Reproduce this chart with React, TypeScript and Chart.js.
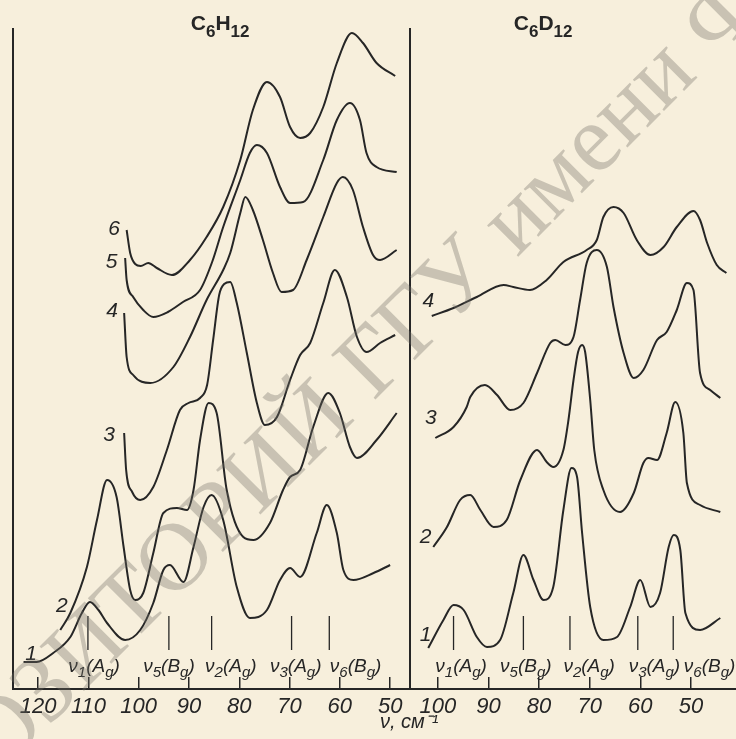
import React, { useEffect, useRef } from 'react';
import { Chart, registerables } from 'chart.js';

Chart.register(...registerables);

type P = [number, number];

// ---------- axes ----------
const H_TICKS = [120, 110, 100, 90, 80, 70, 60, 50];
const D_TICKS = [100, 90, 80, 70, 60, 50];
const H_RANGE: P = [46.05, 125.0];
const D_RANGE: P = [41.1, 105.5];
const Y_RANGE: P = [0, 66];

// ---------- C6H12 spectra (x: wavenumber, cm^-1; y: offset intensity) ----------
const H1: P[] = [[122.9,2.7],[120.3,2.7],[117.0,3.6],[113.6,5.2],[111.3,7.6],[109.7,8.7],[108.0,7.9],[106.3,6.6],[102.7,4.9],[99.7,5.9],[97.1,8.6],[95.1,11.9],[93.8,12.4],[91.1,10.7],[89.1,14.2],[87.1,18.2],[85.5,19.4],[83.2,16.9],[80.5,10.2],[77.9,7.1],[74.5,7.9],[71.9,10.9],[69.9,12.1],[67.9,11.2],[64.6,15.6],[62.6,18.4],[60.6,15.6],[59.3,11.9],[57.3,10.9],[53.3,11.6],[50.0,12.4]];
const H2: P[] = [[115.6,5.9],[113.6,7.6],[110.3,12.2],[108.3,16.9],[106.3,20.9],[104.4,19.2],[103.0,14.2],[101.7,9.9],[100.7,8.9],[99.1,9.6],[97.1,13.6],[95.1,17.6],[92.4,18.1],[90.4,17.9],[89.1,19.9],[87.8,24.9],[86.1,28.6],[84.5,27.6],[82.5,19.9],[79.2,15.2],[77.2,14.9],[73.9,16.6],[71.3,19.9],[69.9,21.2],[67.9,21.9],[65.3,26.2],[62.3,29.6],[60.0,27.6],[58.0,24.2],[56.6,23.1],[52.7,24.9],[48.7,27.6]];
const H3: P[] = [[102.9,25.6],[102.5,21.9],[101.3,19.7],[99.7,18.9],[97.1,20.2],[94.4,23.9],[91.8,27.9],[90.1,28.6],[87.8,29.1],[86.4,30.4],[85.2,34.9],[84.0,39.4],[83.0,40.5],[81.8,40.7],[80.5,38.6],[78.5,33.6],[76.5,28.6],[74.9,26.4],[72.5,27.2],[69.9,30.9],[67.9,33.4],[65.9,34.6],[63.3,38.6],[61.0,41.9],[58.6,39.2],[56.6,35.2],[54.7,33.7],[52.0,34.6],[49.0,35.4]];
const H4: P[] = [[102.9,37.6],[102.4,33.2],[101.1,31.4],[97.7,30.6],[93.1,32.2],[89.8,35.2],[86.5,38.9],[83.2,41.9],[81.8,43.6],[79.8,47.6],[78.8,49.2],[77.3,47.9],[75.3,44.9],[73.3,41.6],[71.6,39.7],[69.3,39.9],[66.6,42.9],[63.3,47.2],[60.6,50.6],[59.4,51.2],[57.4,49.9],[55.4,46.2],[53.4,43.4],[52.0,42.9],[48.7,43.9]];
const H5: P[] = [[102.7,43.1],[102.4,40.9],[101.1,39.2],[99.1,37.9],[97.1,37.2],[94.2,37.7],[91.2,38.7],[87.8,39.9],[85.4,42.7],[83.2,46.2],[79.8,50.9],[77.9,53.6],[76.5,54.4],[74.5,53.6],[71.9,50.2],[69.9,48.6],[67.3,48.7],[63.3,52.9],[60.6,56.9],[58.0,58.6],[56.0,56.9],[54.7,53.6],[52.7,52.2],[48.7,51.7]];
const H6: P[] = [[102.4,45.9],[101.7,43.6],[100.7,42.5],[99.6,42.3],[98.1,42.6],[96.4,42.1],[93.4,41.4],[89.8,42.9],[86.5,45.2],[83.2,48.2],[79.8,52.9],[77.3,57.9],[74.5,60.7],[71.9,59.2],[69.9,56.2],[67.9,55.1],[65.9,55.6],[63.3,58.2],[60.6,62.6],[57.6,65.6],[55.4,64.6],[52.7,62.6],[49.0,61.3]];

// ---------- C6D12 spectra ----------
const D1: P[] = [[101.9,4.1],[98.9,6.9],[96.9,8.4],[94.9,7.9],[92.3,5.2],[90.3,4.2],[87.7,4.9],[85.1,9.6],[83.1,13.4],[81.1,10.9],[79.1,8.9],[77.2,10.2],[75.2,17.9],[73.6,22.1],[72.5,21.2],[71.5,15.6],[69.9,8.2],[67.3,4.9],[64.6,5.2],[62.0,8.2],[60.0,10.9],[58.0,8.2],[56.1,9.6],[54.4,14.2],[53.4,15.4],[52.1,13.9],[51.1,7.6],[48.2,5.9],[44.2,7.1]];
const D2: P[] = [[100.9,14.2],[98.2,16.2],[95.6,18.9],[93.6,19.4],[91.6,17.9],[89.0,16.2],[86.4,16.9],[83.7,20.9],[80.4,23.9],[78.5,22.7],[77.2,22.2],[75.2,23.9],[74.2,26.9],[73.2,30.9],[72.3,33.7],[71.5,34.4],[70.9,33.7],[69.9,28.9],[69.1,23.9],[67.3,19.9],[64.0,17.7],[61.3,19.6],[59.4,22.6],[58.4,23.1],[56.7,22.9],[54.8,25.6],[53.1,28.7],[51.5,25.6],[50.8,20.6],[48.2,18.4],[44.2,17.7]];
const D3: P[] = [[100.5,25.1],[96.9,26.2],[94.3,28.2],[93.6,29.2],[90.7,30.4],[88.3,29.4],[85.7,27.9],[83.1,28.6],[80.4,31.6],[77.8,34.6],[76.8,34.9],[74.8,34.4],[73.2,35.2],[71.9,38.9],[70.6,42.6],[68.6,43.9],[66.6,42.2],[65.3,38.2],[63.3,33.6],[61.3,31.1],[59.4,31.9],[56.7,34.9],[54.8,35.7],[52.8,37.9],[50.8,40.6],[49.5,39.9],[48.2,31.6],[46.2,29.9],[44.2,29.1]];
const D4: P[] = [[101.2,37.3],[96.9,38.1],[92.3,39.2],[87.0,40.4],[85.1,40.2],[81.8,39.9],[78.5,40.9],[75.2,42.7],[70.6,43.9],[68.6,44.9],[67.3,47.2],[65.3,48.2],[63.3,47.6],[60.7,44.9],[58.0,43.4],[55.4,44.2],[52.8,46.2],[49.5,47.8],[48.2,46.9],[46.8,44.6],[44.9,42.4],[43.0,41.6]];

// ---------- curve numbers ----------
const H_CURVE_NAMES = ['1', '2', '3', '4', '5', '6'];
const H_CURVE_NAME_POS: P[] = [[121.4,3.5],[115.3,8.3],[105.9,25.4],[105.3,37.8],[105.4,42.7],[104.9,46.0]];
const D_CURVE_NAMES = ['1', '2', '3', '4'];
const D_CURVE_NAME_POS: P[] = [[102.4,5.4],[102.4,15.2],[101.4,27.1],[101.9,38.8]];

// ---------- normal modes ----------
const MODE_NUMS = ['1', '5', '2', '3', '6'];
const MODE_SYMS = ['A', 'B', 'A', 'A', 'B'];
const H_MODES = [110.1, 94.0, 85.5, 69.6, 62.1];
const D_MODES = [96.9, 83.1, 73.9, 60.5, 53.5];
const H_MODE_LABEL_X = [114.0, 99.1, 86.8, 73.9, 62.0];
const D_MODE_LABEL_X = [100.5, 87.7, 75.2, 62.3, 51.4];
const MODE_MARK_Y: P = [3.9, 7.3];
const MODE_LABEL_Y = 1.7;

// ---------- texts ----------
const H_TITLE = 'C6H12';
const D_TITLE = 'C6D12';
const H_TITLE_X = 83.8;
const D_TITLE_X = 79.2;
const AXIS_TITLE = 'ν, см⁻¹';
const WATERMARK = 'РЕПОЗИТОРИЙ ГГУ имени Ф. Скорины';
const WATERMARK_HIDDEN = 'РЕПО';

const INK = '#262626';
const PAPER = '#f7efdc';
const SANS = "'Liberation Sans Narrow', 'Liberation Sans', sans-serif";

type Part = { t: string; sub?: boolean };

function drawRich(ctx: CanvasRenderingContext2D, parts: Part[], x: number, y: number, align: 'left' | 'center', mainFont: string, subFont: string, subDy: number) {
  const widths = parts.map((p) => {
    ctx.font = p.sub ? subFont : mainFont;
    return ctx.measureText(p.t).width;
  });
  const total = widths.reduce((a, b) => a + b, 0);
  let cx = align === 'center' ? x - total / 2 : x;
  ctx.textAlign = 'left';
  ctx.textBaseline = 'alphabetic';
  parts.forEach((p, i) => {
    ctx.font = p.sub ? subFont : mainFont;
    ctx.fillText(p.t, cx, y + (p.sub ? subDy : 0));
    cx += widths[i];
  });
}

function formulaParts(f: string): Part[] {
  const out: Part[] = [];
  const re = /(\d+|[A-Za-z]+)/g;
  let m: RegExpExecArray | null;
  while ((m = re.exec(f))) out.push({ t: m[1], sub: /\d/.test(m[1]) });
  return out;
}

const deco = {
  id: 'panelDeco',
  afterDraw(chart: any, _args: any, opts: any) {
    const ctx: CanvasRenderingContext2D = chart.ctx;
    const xs = chart.scales.x;
    const ys = chart.scales.y;
    const area = chart.chartArea;
    ctx.save();
    ctx.fillStyle = INK;

    // panel title
    drawRich(ctx, formulaParts(opts.title), xs.getPixelForValue(opts.titleX), area.top + 1, 'center',
      `bold 21px ${SANS}`, `bold 17px ${SANS}`, 7);

    // curve numbers
    ctx.font = `italic 21px ${SANS}`;
    ctx.textAlign = 'center';
    ctx.textBaseline = 'middle';
    opts.names.forEach((n: string, i: number) => {
      const p = opts.namePos[i];
      ctx.fillText(n, xs.getPixelForValue(p[0]), ys.getPixelForValue(p[1]));
    });

    // mode labels
    const yb = ys.getPixelForValue(MODE_LABEL_Y);
    opts.modeLabelX.forEach((v: number, i: number) => {
      const parts: Part[] = [
        { t: 'ν' }, { t: MODE_NUMS[i], sub: true }, { t: '(' }, { t: MODE_SYMS[i] }, { t: 'g', sub: true }, { t: ')' },
      ];
      drawRich(ctx, parts, xs.getPixelForValue(v), yb, 'left', `italic 19px ${SANS}`, `italic 15px ${SANS}`, 5);
    });

    if (opts.axisTitle) {
      ctx.font = `italic 20px ${SANS}`;
      ctx.textAlign = 'left';
      ctx.textBaseline = 'middle';
      ctx.fillText(opts.axisTitle, area.right - 30, area.bottom + 33);
    }

    if (opts.watermark) {
      ctx.save();
      ctx.translate(48, 727);
      ctx.rotate(-Math.PI / 4);
      ctx.font = `96px 'Liberation Serif', serif`;
      ctx.fillStyle = 'rgba(110,108,100,0.34)';
      ctx.textAlign = 'left';
      ctx.textBaseline = 'alphabetic';
      const pre = ctx.measureText(WATERMARK_HIDDEN).width;
      ctx.fillText(opts.watermark, -pre, 0);
      ctx.restore();
    }
    ctx.restore();
  },
};

function makeConfig(panel: {
  curves: P[][]; modes: number[]; range: P; ticks: number[]; padLeft: number; padRight: number;
  title: string; titleX: number; names: string[]; namePos: P[]; modeLabelX: number[];
  axisTitle?: string; watermark?: string;
}): any {
  const curveSets = panel.curves.map((c) => ({
    data: c,
    borderColor: INK,
    borderWidth: 2,
    pointRadius: 0,
    fill: false,
    cubicInterpolationMode: 'monotone',
  }));
  const modeSets = panel.modes.map((m) => ({
    data: [[m, MODE_MARK_Y[0]], [m, MODE_MARK_Y[1]]],
    borderColor: INK,
    borderWidth: 1.3,
    pointRadius: 0,
    fill: false,
    tension: 0,
  }));
  return {
    type: 'line',
    data: { datasets: [...curveSets, ...modeSets] },
    options: {
      animation: false,
      responsive: false,
      events: [],
      layout: { padding: { left: panel.padLeft, right: panel.padRight, top: 29, bottom: 0 }, autoPadding: false },
      plugins: {
        legend: { display: false },
        tooltip: { enabled: false },
        title: { display: false },
        panelDeco: {
          title: panel.title, titleX: panel.titleX, names: panel.names, namePos: panel.namePos,
          modeLabelX: panel.modeLabelX, axisTitle: panel.axisTitle, watermark: panel.watermark,
        },
      },
      scales: {
        x: {
          type: 'linear',
          reverse: true,
          min: panel.range[0],
          max: panel.range[1],
          afterBuildTicks: (s: any) => { s.ticks = panel.ticks.map((v) => ({ value: v })); },
          afterFit: (s: any) => { s.height = 50; },
          grid: { display: true, drawOnChartArea: false, drawTicks: true, tickLength: -12, color: INK, lineWidth: 1.5 },
          border: { display: true, color: INK, width: 2 },
          ticks: { autoSkip: false, maxRotation: 0, minRotation: 0, padding: 17, color: INK, font: { family: SANS, size: 22, style: 'italic' } },
        },
        y: {
          type: 'linear',
          min: Y_RANGE[0],
          max: Y_RANGE[1],
          afterFit: (s: any) => { s.width = 0; },
          grid: { display: false, drawTicks: false },
          ticks: { display: false },
          border: { display: true, color: INK, width: 2 },
        },
      },
    },
    plugins: [deco],
  };
}

export default function App() {
  const leftRef = useRef<HTMLCanvasElement>(null);
  const rightRef = useRef<HTMLCanvasElement>(null);

  useEffect(() => {
    const left = new Chart(leftRef.current as HTMLCanvasElement, makeConfig({
      curves: [H1, H2, H3, H4, H5, H6], modes: H_MODES, range: H_RANGE, ticks: H_TICKS,
      padLeft: 13, padRight: 326, title: H_TITLE, titleX: H_TITLE_X,
      names: H_CURVE_NAMES, namePos: H_CURVE_NAME_POS, modeLabelX: H_MODE_LABEL_X, axisTitle: AXIS_TITLE,
    }));
    const right = new Chart(rightRef.current as HTMLCanvasElement, makeConfig({
      curves: [D1, D2, D3, D4], modes: D_MODES, range: D_RANGE, ticks: D_TICKS,
      padLeft: 410, padRight: 0, title: D_TITLE, titleX: D_TITLE_X,
      names: D_CURVE_NAMES, namePos: D_CURVE_NAME_POS, modeLabelX: D_MODE_LABEL_X, watermark: WATERMARK,
    }));
    return () => { left.destroy(); right.destroy(); };
  }, []);

  return (
    <div style={{ position: 'fixed', left: 0, top: 0, width: 736, height: 739, background: PAPER, overflow: 'hidden' }}>
      <canvas ref={leftRef} width={736} height={739} style={{ position: 'absolute', left: 0, top: 0 }} />
      <canvas ref={rightRef} width={736} height={739} style={{ position: 'absolute', left: 0, top: 0 }} />
    </div>
  );
}
